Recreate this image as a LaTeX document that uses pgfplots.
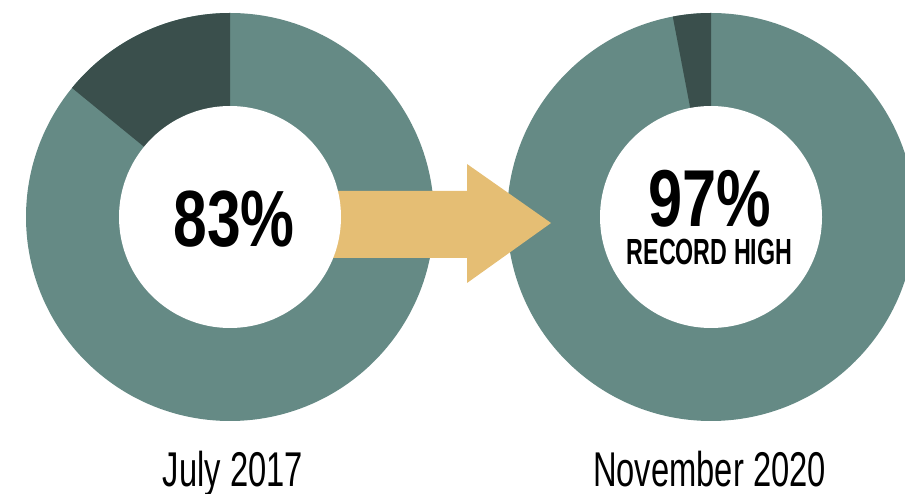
\documentclass[border=0pt]{standalone}
\usepackage{pgfplots}
\pgfplotsset{compat=1.18}
\usepackage{fontspec}
\setmainfont{Liberation Sans}
\newfontfamily\bignum[FakeStretch=0.76]{Liberation Sans Bold}
\newfontfamily\smallcaps[FakeStretch=0.64]{Liberation Sans Bold}
\newfontfamily\labelfont[FakeStretch=0.67]{Liberation Sans}

\definecolor{ringteal}{HTML}{658A85}
\definecolor{ringdark}{HTML}{3A4F4C}
\definecolor{arrowgold}{HTML}{E5BE74}

% donut ring: centre x, centre y, share of the dark slice (percent)
\newcommand{\ring}[3]{%
  \fill[ringteal] (axis cs:#1,#2) circle[radius=204bp];
  \fill[ringdark] (axis cs:#1,#2) -- ++(90:204bp)
    arc[start angle=90, end angle={90+3.6*#3}, radius=204bp] -- cycle;
}
\newcommand{\hole}[2]{%
  \fill[white] (axis cs:#1,#2) circle[radius=111bp];
}

\begin{document}
\begin{tikzpicture}
\useasboundingbox (0,0) rectangle (905bp,494bp);
\clip (0,0) rectangle (905bp,494bp);
\begin{axis}[
    at={(0,0)}, anchor=south west,
    scale only axis, width=905bp, height=494bp,
    xmin=0, xmax=905, ymin=0, ymax=494,
    hide axis, clip=false,
]
% July 2017: dark slice as drawn in the reference, Nov 2020: 3%
\ring{230}{277}{14.1}
\ring{711}{277}{3}
% arrow between the two rings
\addplot[fill=arrowgold, draw=none] coordinates {
  (230,303) (467,303) (467,330) (551,271) (467,211) (467,236) (230,236)
} -- cycle;
\hole{230}{277}
\hole{711}{277}

\tikzset{lbl/.style={anchor=base, inner sep=0, text depth=0pt}}
\node[lbl] at (axis cs:234,247)
  {\fontsize{80}{80}\bignum 83\%};
\node[lbl] at (axis cs:709.5,267)
  {\fontsize{81}{81}\bignum 97\%};
\node[lbl] at (axis cs:709.5,229)
  {\fontsize{36.5}{36.5}\smallcaps RECORD HIGH};
\node[lbl] at (axis cs:233,8)
  {\fontsize{49}{49}\labelfont July 2017};
\node[lbl] at (axis cs:709.5,8)
  {\fontsize{49}{49}\labelfont November 2020};
\end{axis}
\end{tikzpicture}
\end{document}
